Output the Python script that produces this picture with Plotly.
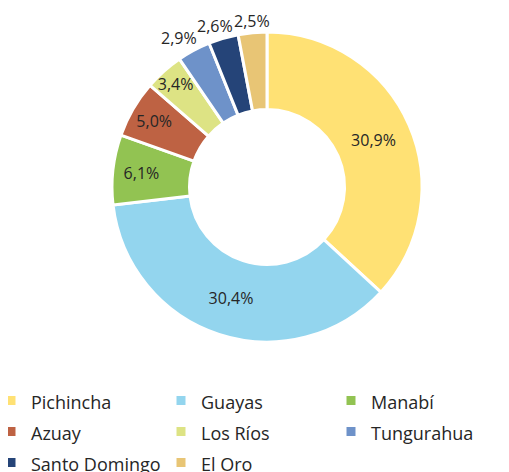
import math
import plotly.graph_objects as go

provinces = ["Pichincha", "Guayas", "Manabí", "Azuay", "Los Ríos", "Tungurahua", "Santo Domingo", "El Oro"]
shares = [30.9, 30.4, 6.1, 5.0, 3.4, 2.9, 2.6, 2.5]
share_labels = ["30,9%", "30,4%", "6,1%", "5,0%", "3,4%", "2,9%", "2,6%", "2,5%"]
colors = ["#FFE174", "#93D5EE", "#92C352", "#BE6243", "#DDE384", "#6E92C9", "#254478", "#E8C575"]
outside = [False, False, False, False, False, True, True, True]

W, H = 509, 472
MB = 100                      # bottom margin reserved for the legend
GH = H - MB                   # plot-area height
cx, cy, R = 259, 179, 155     # pie centre / radius in figure pixels
TXT = "#262626"

fig = go.Figure(go.Pie(
    labels=[f'<span style="font-size:18px">{p}</span>' for p in provinces],
    values=shares,
    text=[("" if o else t) for t, o in zip(share_labels, outside)],
    textinfo="text",
    textposition="inside",
    insidetextorientation="horizontal",
    hoverinfo="label+percent",
    hole=0.5,
    sort=False,
    direction="clockwise",
    rotation=0,
    marker=dict(colors=colors, line=dict(color="white", width=3)),
    textfont=dict(family="Open Sans", size=16, color=TXT),
    domain=dict(x=[(cx - R) / W, (cx + R) / W], y=[1 - (cy + R) / GH, 1 - (cy - R) / GH]),
))

# outside labels for the small slices, placed from the slice mid-angles
total = sum(shares)
cum = 0.0
for v, t, o in zip(shares, share_labels, outside):
    mid = (cum + v / 2) / total * 2 * math.pi
    cum += v
    if not o:
        continue
    s, c = math.sin(mid), math.cos(mid)
    px = cx + (R - 1) * s
    py = cy - (R - 1) * c
    fig.add_annotation(
        x=px / W, y=1 - py / GH, xref="paper", yref="paper",
        text=t, showarrow=False, xanchor="center", yanchor="bottom",
        xshift=40 * s + 3,
        font=dict(family="Open Sans", size=16, color=TXT),
    )

fig.update_layout(
    width=W, height=H,
    margin=dict(l=0, r=0, t=0, b=MB, autoexpand=False),
    paper_bgcolor="white",
    plot_bgcolor="white",
    uniformtext=dict(minsize=16, mode="show"),
    font=dict(family="Open Sans", color=TXT),
    legend=dict(
        orientation="h",
        x=-17 / W, xanchor="left",
        y=0, yanchor="top",
        entrywidth=125, entrywidthmode="pixels",
        font=dict(size=21.5, color=TXT),
        traceorder="normal",
    ),
    showlegend=True,
)

fig.write_html("out.html")
